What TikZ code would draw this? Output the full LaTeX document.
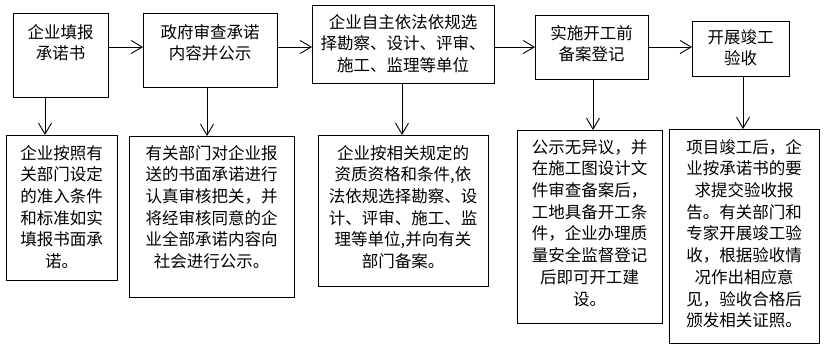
\documentclass[tikz,border=0pt]{standalone}
\usepackage{fontspec}
\setmainfont{Noto Sans CJK SC}
\usetikzlibrary{arrows.meta,calc}
\begin{document}
\begin{tikzpicture}[x=1pt,y=-1pt,
  box/.style={draw, line width=0.9pt, inner sep=0pt, anchor=north west},
  txt/.style={align=center, inner sep=0pt, anchor=base, font=\fontsize{16.5}{21.7}\selectfont},
  arr/.style={line width=0.9pt, -{Straight Barb[length=11pt,width=13pt,line width=0.9pt]}}]
\useasboundingbox (0,0) rectangle (828,353);
% top row
\node[box, minimum width=95pt, minimum height=84pt] (b1) at (13,13) {};
\node[box, minimum width=134pt, minimum height=74pt] (b2) at (143,13) {};
\node[box, minimum width=182pt, minimum height=78pt] (b3) at (312,5) {};
\node[box, minimum width=113pt, minimum height=64pt] (b4) at (535,15) {};
\node[box, minimum width=97pt, minimum height=55pt] (b5) at (692,21) {};
% bottom row
\node[box, minimum width=111pt, minimum height=145pt] (d1) at (6,135) {};
\node[box, minimum width=165pt, minimum height=161pt] (d2) at (129,136) {};
\node[box, minimum width=170pt, minimum height=151pt] (d3) at (318,135) {};
\node[box, minimum width=145pt, minimum height=193pt] (d4) at (517,130) {};
\node[box, minimum width=150pt, minimum height=214pt] (d5) at (669,129) {};
% texts (anchor base = baseline of the last line)
\node[txt] (t1) at (60.5,59.8) {企业填报\\承诺书};
\node[txt] (t2) at (210,59.8) {政府审查承诺\\内容并公示};
\node[txt] (t3) at (403,71.5) {企业自主依法依规选\\择勘察、设计、评审、\\施工、监理等单位};
\node[txt] (t4) at (591.5,60.8) {实施开工前\\备案登记};
\node[txt] (t5) at (740.5,64.8) {开展竣工\\验收};
\node[txt] (u1) at (61.5,267.6) {企业按照有\\关部门设定\\的准入条件\\和标准如实\\填报书面承\\诺。};
\node[txt] (u2) at (211.5,267.6) {有关部门对企业报\\送的书面承诺进行\\认真审核把关，并\\将经审核同意的企\\业全部承诺内容向\\社会进行公示。};
\node[txt] (u3) at (403,267.6) {企业按相关规定的\\资质资格和条件,依\\法依规选择勘察、设\\计、评审、施工、监\\理等单位,并向有关\\部门备案。};
\node[txt] (u4) at (589.5,305) {公示无异议，并\\在施工图设计文\\件审查备案后，\\工地具备开工条\\件，企业办理质\\量安全监督登记\\后即可开工建\\设。};
\node[txt] (u5) at (744,326.7) {项目竣工后，企\\业按承诺书的要\\求提交验收报\\告。有关部门和\\专家开展竣工验\\收，根据验收情\\况作出相应意\\见，验收合格后\\颁发相关证照。};
% connectors
\coordinate (row) at (0,47);
\coordinate (v1) at (45,0);
\coordinate (v2) at (207,0);
\coordinate (v3) at (402,0);
\coordinate (v4) at (593,0);
\coordinate (v5) at (743,0);
\draw[arr] (b1.east |- row) -- (b2.west |- row);
\draw[arr] (b2.east |- row) -- (b3.west |- row);
\draw[arr] (b3.east |- row) -- (b4.west |- row);
\draw[arr] (b4.east |- row) -- (b5.west |- row);
\draw[arr] (b1.south -| v1) -- (d1.north -| v1);
\draw[arr] (b2.south -| v2) -- (d2.north -| v2);
\draw[arr] (b3.south -| v3) -- (d3.north -| v3);
\draw[arr] (b4.south -| v4) -- (d4.north -| v4);
\draw[arr] (b5.south -| v5) -- (d5.north -| v5);
\end{tikzpicture}
\end{document}
